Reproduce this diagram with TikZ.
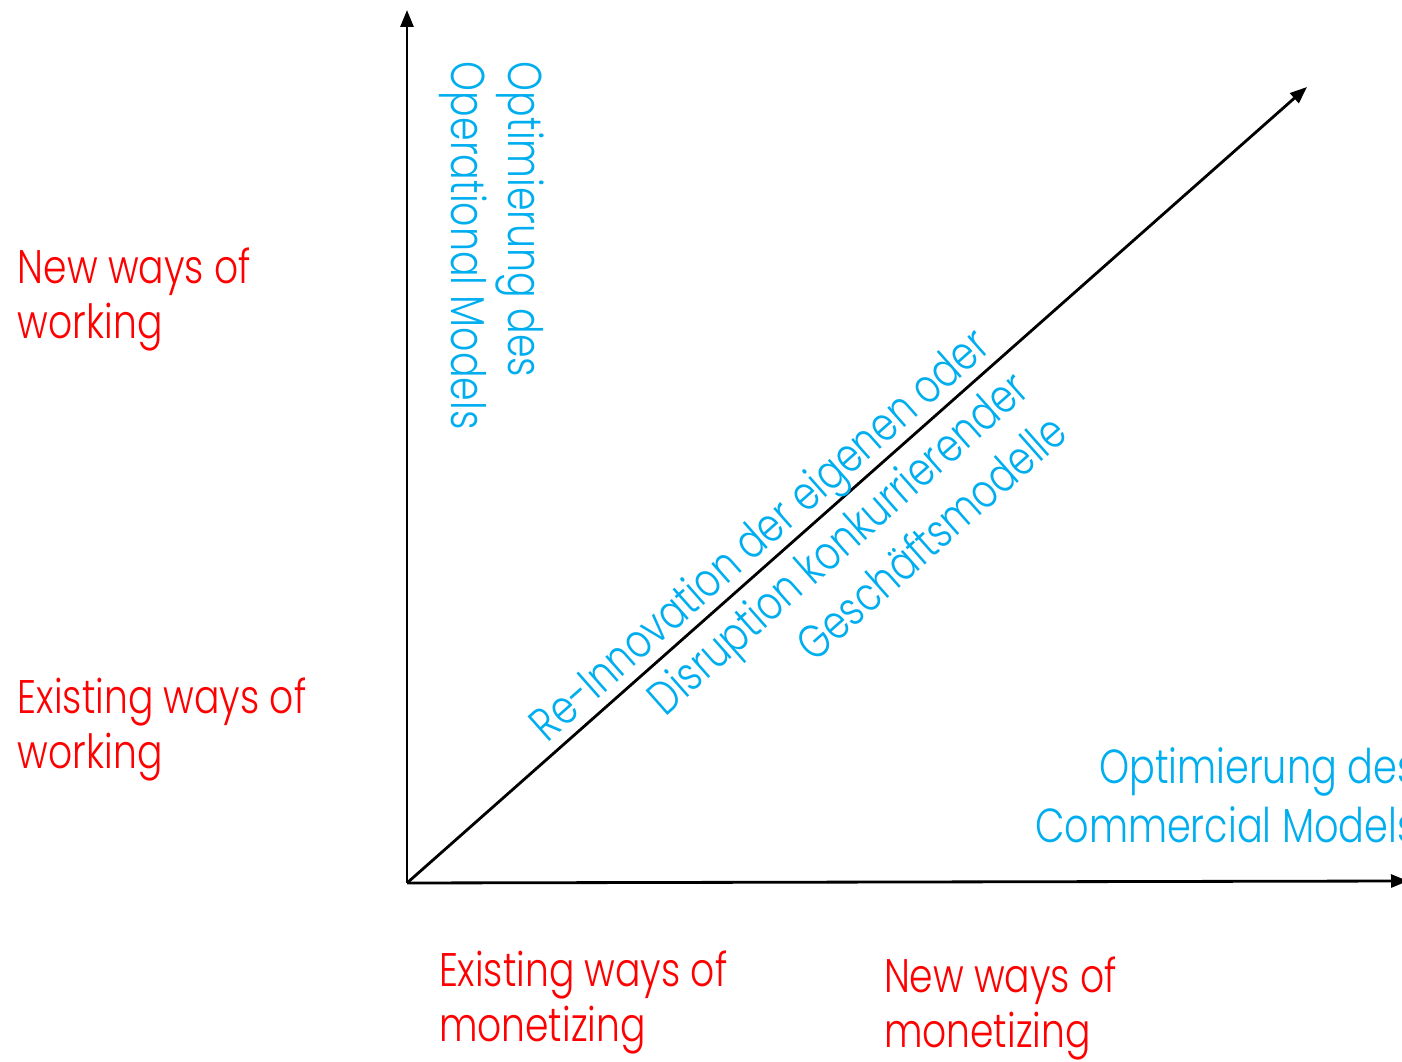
\documentclass[tikz,border=0pt]{standalone}
\usepackage{fontspec}
\setmainfont{Poppins}[UprightFont=* Light, FakeStretch=0.8]
\usepackage{tikz}
\usetikzlibrary{arrows.meta, positioning}

\definecolor{wayred}{RGB}{255,0,0}
\definecolor{modelblue}{RGB}{0,174,239}

\begin{document}
\begin{tikzpicture}[
    every node/.style={inner sep=0pt, outer sep=0pt},
    waylabel/.style={text=wayred, align=left, anchor=base west, font=\fontsize{13.4}{15.8}\selectfont},
    modellabel/.style={text=modelblue},
    axis/.style={-{Triangle[length=0.17cm, width=0.13cm]}, line width=0.8pt}
]
    \useasboundingbox (0,0) rectangle (14.02,10.62);

    % axes
    \coordinate (origin) at (4.07,1.79);
    \coordinate (ytop) at (4.07,10.52);
    \coordinate (xend) at (14.08,1.81);
    \coordinate (dtop) at (13.07,9.75);
    \draw[axis] (origin) -- (ytop);
    \draw[axis] (origin) -- (xend);
    \draw[axis] (origin) -- (dtop);

    % ways of working / monetizing (anchored at the last baseline)
    \node[waylabel] (newwork) at (0.18,7.23) {New ways of\\working};
    \node[waylabel] (oldwork) at (0.18,2.93) {Existing ways of\\working};
    \node[waylabel] (oldmoney) at (4.39,0.20) {Existing ways of\\monetizing};
    \node[waylabel] (newmoney) at (8.84,0.14) {New ways of\\monetizing};

    % model labels
    \node[modellabel, font=\fontsize{13.5}{16.5}\selectfont, align=left, rotate=-90, anchor=base west]
        (opmodel) at (4.51,10.0) {Optimierung des\\Operational Models};
    \node[modellabel, font=\fontsize{13.6}{17}\selectfont, align=right, anchor=base west]
        (commodel) at (10.35,2.19) {Optimierung des\\Commercial Models};
    \node[modellabel, font=\fontsize{13.4}{16.6}\selectfont, align=right, rotate=41.5, anchor=base east]
        (bizmodel) at (10.70,6.25) {Re-Innovation der eigenen oder\\Disruption konkurrierender\\Geschäftsmodelle};
\end{tikzpicture}
\end{document}
